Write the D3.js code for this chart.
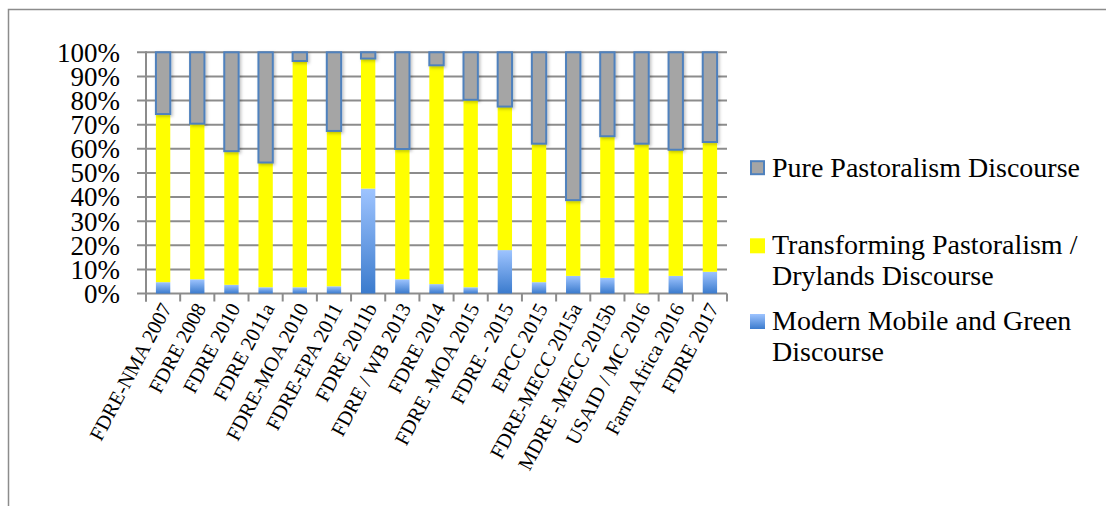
<!DOCTYPE html>
<html>
<head>
<meta charset="utf-8">
<script src="https://cdn.jsdelivr.net/npm/d3@7"></script>
<style>
  html, body { margin: 0; padding: 0; background: #fff; }
  svg { display: block; }
  text { font-family: "Liberation Serif", "Times New Roman", serif; fill: #000; }
</style>
</head>
<body>
<svg id="chart" width="1106" height="506"></svg>
<script>
// Documents analysed
const categories = [
  "FDRE-NMA 2007", "FDRE 2008", "FDRE 2010", "FDRE 2011a", "FDRE-MOA 2010",
  "FDRE-EPA 2011", "FDRE 2011b", "FDRE / WB 2013", "FDRE 2014", "FDRE -MOA 2015",
  "FDRE - 2015", "EPCC 2015", "FDRE-MECC 2015a", "MDRE -MECC 2015b",
  "USAID / MC 2016", "Farm Africa 2016", "FDRE 2017"
];

// Share of each discourse per document (%)
const modernMobileGreen = [4.7, 5.9, 3.6, 2.6, 2.6, 3.0, 43.5, 5.9, 3.9, 2.6, 18.0, 4.7, 7.3, 6.5, 0.0, 7.3, 9.0];
const transformingDrylands = [69.7, 64.5, 55.4, 51.7, 93.8, 64.4, 53.9, 54.0, 90.7, 77.7, 59.5, 57.4, 31.4, 58.7, 62.1, 52.3, 53.8];
const purePastoralism = [25.6, 29.6, 41.0, 45.7, 3.6, 32.6, 2.6, 40.1, 5.4, 19.7, 22.5, 37.9, 61.3, 34.8, 37.9, 40.4, 37.2];

const yTicks = [0, 10, 20, 30, 40, 50, 60, 70, 80, 90, 100];

const rows = categories.map((c, i) => ({
  cat: c,
  modern: modernMobileGreen[i],
  transforming: transformingDrylands[i],
  pure: purePastoralism[i]
}));
const keys = ["modern", "transforming", "pure"];

const svg = d3.select("#chart");

// outer chart frame
svg.append("rect")
  .attr("x", 8.5).attr("y", 9.5)
  .attr("width", 1120).attr("height", 520)
  .attr("fill", "none").attr("stroke", "#8c8c8c").attr("stroke-width", 1.5);

const defs = svg.append("defs");
const grad = defs.append("linearGradient")
  .attr("id", "blueGrad").attr("x1", 0).attr("y1", 0).attr("x2", 0).attr("y2", 1);
grad.append("stop").attr("offset", "0%").attr("stop-color", "#9ec4ff");
grad.append("stop").attr("offset", "100%").attr("stop-color", "#3b7bcd");

const shadow = defs.append("filter").attr("id", "shadow")
  .attr("x", "-50%").attr("y", "-10%").attr("width", "200%").attr("height", "120%");
shadow.append("feDropShadow")
  .attr("dx", 1.5).attr("dy", 1.5).attr("stdDeviation", 1.8)
  .attr("flood-color", "#000").attr("flood-opacity", 0.25);

const plotLeft = 146, plotRight = 727, plotTop = 52.3, plotBottom = 293.5;

const x = d3.scaleBand()
  .domain(categories)
  .range([plotLeft, plotRight])
  .paddingInner(0.58)
  .paddingOuter(0.29);

const y = d3.scaleLinear().domain([0, 100]).range([plotBottom, plotTop]);

// horizontal gridlines (extend left as tick marks)
svg.append("g").selectAll("line")
  .data(yTicks).join("line")
  .attr("x1", plotLeft - 9).attr("x2", plotRight)
  .attr("y1", d => y(d)).attr("y2", d => y(d))
  .attr("stroke", "#8c8c8c").attr("stroke-width", 2);

// y axis with percentage labels
const yAxis = svg.append("g")
  .attr("transform", `translate(${plotLeft},0)`)
  .call(d3.axisLeft(y).tickValues(yTicks).tickSize(0).tickPadding(26).tickFormat(d => d + "%"));
yAxis.select(".domain").remove();
yAxis.selectAll("text")
  .attr("font-family", "Liberation Serif, serif")
  .attr("font-size", 27)
  .attr("fill", "#000")
  .attr("dy", "0.33em");

svg.append("line")
  .attr("x1", plotLeft).attr("x2", plotLeft)
  .attr("y1", plotTop - 1).attr("y2", plotBottom + 8)
  .attr("stroke", "#8c8c8c").attr("stroke-width", 2);

// category boundary ticks along the bottom
const n = categories.length;
const boundaries = d3.range(n + 1).map(i => plotLeft + i * (plotRight - plotLeft) / n);
svg.append("g").selectAll("line")
  .data(boundaries).join("line")
  .attr("x1", d => d).attr("x2", d => d)
  .attr("y1", plotBottom).attr("y2", plotBottom + 8)
  .attr("stroke", "#8c8c8c").attr("stroke-width", 2);

// stacked bars
const stacked = d3.stack().keys(keys)(rows);
const fills = { modern: "url(#blueGrad)", transforming: "#ffff00", pure: "#a5a5a5" };

const layers = svg.append("g").selectAll("g")
  .data(stacked).join("g")
  .attr("filter", d => d.key === "pure" ? "url(#shadow)" : null);

layers.each(function(layer) {
  d3.select(this).selectAll("rect")
    .data(layer.filter(d => d[1] - d[0] > 0))
    .join("rect")
    .attr("x", d => x(d.data.cat))
    .attr("width", x.bandwidth())
    .attr("y", d => y(d[1]))
    .attr("height", d => y(d[0]) - y(d[1]))
    .attr("fill", fills[layer.key])
    .attr("stroke", layer.key === "pure" ? "#4f81bd" : "none")
    .attr("stroke-width", layer.key === "pure" ? 2 : 0);
});

// rotated category labels
svg.append("g").selectAll("text")
  .data(categories).join("text")
  .attr("transform", d => `translate(${x(d) + x.bandwidth() / 2 + 3},${plotBottom + 11}) rotate(-62)`)
  .attr("text-anchor", "end")
  .attr("dy", "0.35em")
  .attr("font-size", 20.5)
  .text(d => d);

// legend
const legendItems = [
  { key: "pure", lines: ["Pure Pastoralism Discourse"], y: 176.7 },
  { key: "transforming", lines: ["Transforming Pastoralism /", "Drylands Discourse"], y: 254.3 },
  { key: "modern", lines: ["Modern Mobile and Green", "Discourse"], y: 330 }
];
const legend = svg.append("g");
legendItems.forEach(item => {
  const isPure = item.key === "pure";
  legend.append("rect")
    .attr("x", isPure ? 751 : 750)
    .attr("y", isPure ? item.y - 15.5 : item.y - 16)
    .attr("width", isPure ? 13 : 15)
    .attr("height", isPure ? 13 : 15)
    .attr("fill", fills[item.key])
    .attr("stroke", isPure ? "#4f81bd" : "none")
    .attr("stroke-width", isPure ? 2 : 0);
  const t = legend.append("text")
    .attr("x", 772).attr("y", item.y)
    .attr("font-size", 28);
  item.lines.forEach((ln, i) => {
    t.append("tspan").attr("x", 772).attr("dy", i === 0 ? 0 : 31).text(ln);
  });
});
</script>
</body>
</html>
